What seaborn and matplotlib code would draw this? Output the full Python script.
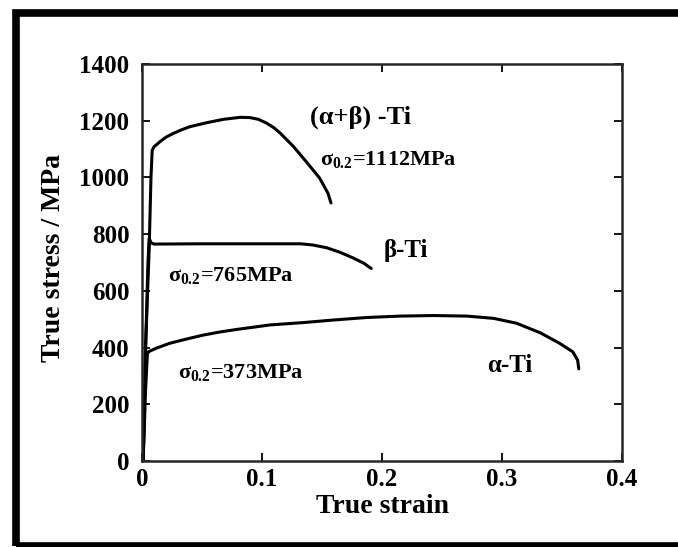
import matplotlib
matplotlib.use("Agg")
import matplotlib.pyplot as plt
import numpy as np
import pandas as pd
import seaborn as sns
from matplotlib.patches import Rectangle

# ---------------- data ----------------
ab_strain = [0.001, 0.003, 0.006, 0.0075, 0.0085, 0.010, 0.015, 0.020, 0.026, 0.033, 0.040, 0.054,
             0.068, 0.082, 0.090, 0.097, 0.104, 0.110, 0.115, 0.126, 0.137, 0.148, 0.155, 0.1575]
ab_stress = [0, 400, 750, 1000, 1095, 1108, 1126, 1142, 1155, 1168, 1179, 1193,
             1205, 1212, 1211, 1205, 1191, 1175, 1157, 1110, 1055, 998, 944, 910]

b_strain = [0.001, 0.003, 0.005, 0.006, 0.0075, 0.010, 0.05, 0.10, 0.132, 0.142,
            0.154, 0.165, 0.176, 0.185, 0.191]
b_stress = [0, 400, 700, 785, 770, 765, 766, 766, 766, 762,
            752, 736, 716, 697, 679]

a_strain = [0.001, 0.003, 0.0045, 0.0053, 0.012, 0.023, 0.037, 0.051, 0.065, 0.079,
            0.093, 0.107, 0.134, 0.159, 0.187, 0.215, 0.243, 0.271, 0.293, 0.312,
            0.332, 0.348, 0.359, 0.363, 0.364]
a_stress = [0, 250, 375, 385, 398, 415, 430, 444, 455, 464,
            472, 480, 488, 497, 506, 511, 513, 511, 503, 486,
            452, 415, 385, 356, 325]

alloys = ["(α+β)-Ti", "β-Ti", "α-Ti"]
x_ticks = [0, 0.1, 0.2, 0.3, 0.4]
x_tick_labels = ["0", "0.1", "0.2", "0.3", "0.4"]
y_ticks = [0, 200, 400, 600, 800, 1000, 1200, 1400]
y_tick_labels = ["0", "200", "400", "600", "800", "1000", "1200", "1400"]

curve_labels = ["(α+β) -Ti", "β-Ti", "α-Ti"]
yield_labels = [r"$\sigma_{0.2}$=1112MPa", r"$\sigma_{0.2}$=765MPa", r"$\sigma_{0.2}$=373MPa"]

# ---------------- style ----------------
sns.set_style("ticks")
plt.rcParams.update({
    "font.family": ["Liberation Serif", "DejaVu Serif"],
    "font.weight": "bold",
    "mathtext.fontset": "custom",
    "mathtext.rm": "Liberation Serif:bold",
    "mathtext.it": "Liberation Serif:bold",
    "mathtext.bf": "Liberation Serif:bold",
    "text.color": "black",
    "axes.labelcolor": "black",
    "xtick.color": "black",
    "ytick.color": "black",
})

df = pd.concat([
    pd.DataFrame({"strain": ab_strain, "stress": ab_stress, "alloy": alloys[0]}),
    pd.DataFrame({"strain": b_strain, "stress": b_stress, "alloy": alloys[1]}),
    pd.DataFrame({"strain": a_strain, "stress": a_stress, "alloy": alloys[2]}),
], ignore_index=True)

fig = plt.figure(figsize=(6.78, 5.47), dpi=100)
fig.patch.set_facecolor("white")

# outer black frame (right side runs off the picture)
frame = Rectangle((0.0236, 0.001), 1.05, 0.975, transform=fig.transFigure,
                  fill=False, edgecolor="black", linewidth=5.5, clip_on=False)
fig.patches.append(frame)

ax = fig.add_axes([0.2094, 0.1572, 0.708, 0.7258])
sns.lineplot(data=df, x="strain", y="stress", hue="alloy", hue_order=alloys,
             palette=["black"] * 3, estimator=None, sort=False, legend=False,
             linewidth=2.2, ax=ax)

ax.set_xlim(0, 0.4)
ax.set_ylim(0, 1400)
ax.set_xticks(x_ticks)
ax.set_xticklabels(x_tick_labels)
ax.set_yticks(y_ticks)
ax.set_yticklabels(y_tick_labels)
ax.tick_params(direction="in", top=True, right=True, length=6, width=1.3,
               labelsize=18)
ax.tick_params(axis="y", pad=9)
ax.tick_params(axis="x", pad=5)
for s in ax.spines.values():
    s.set_linewidth(1.8)
    s.set_visible(True)

ax.set_xlabel("True strain", fontsize=20, fontweight="bold")
ax.set_ylabel("True stress / MPa", fontsize=20, fontweight="bold")
ax.xaxis.set_label_coords(0.502, -0.083)
ax.yaxis.label.set_va("center")
ax.yaxis.set_label_coords(-0.185, 0.511)

# curve annotations
ax.text(0.140, 1191, curve_labels[0], fontsize=19, fontweight="bold", ha="left", va="baseline")
ax.text(0.201, 720, curve_labels[1], fontsize=18, fontweight="bold", ha="left", va="baseline")
ax.text(0.288, 315, curve_labels[2], fontsize=18, fontweight="bold", ha="left", va="baseline")

ax.text(0.148, 1044, yield_labels[0], fontsize=16, fontweight="bold", ha="left", va="baseline")
ax.text(0.022, 636, yield_labels[1], fontsize=16, fontweight="bold", ha="left", va="baseline")
ax.text(0.030, 292, yield_labels[2], fontsize=16, fontweight="bold", ha="left", va="baseline")

fig.savefig("out.png", dpi=100, facecolor="white")
